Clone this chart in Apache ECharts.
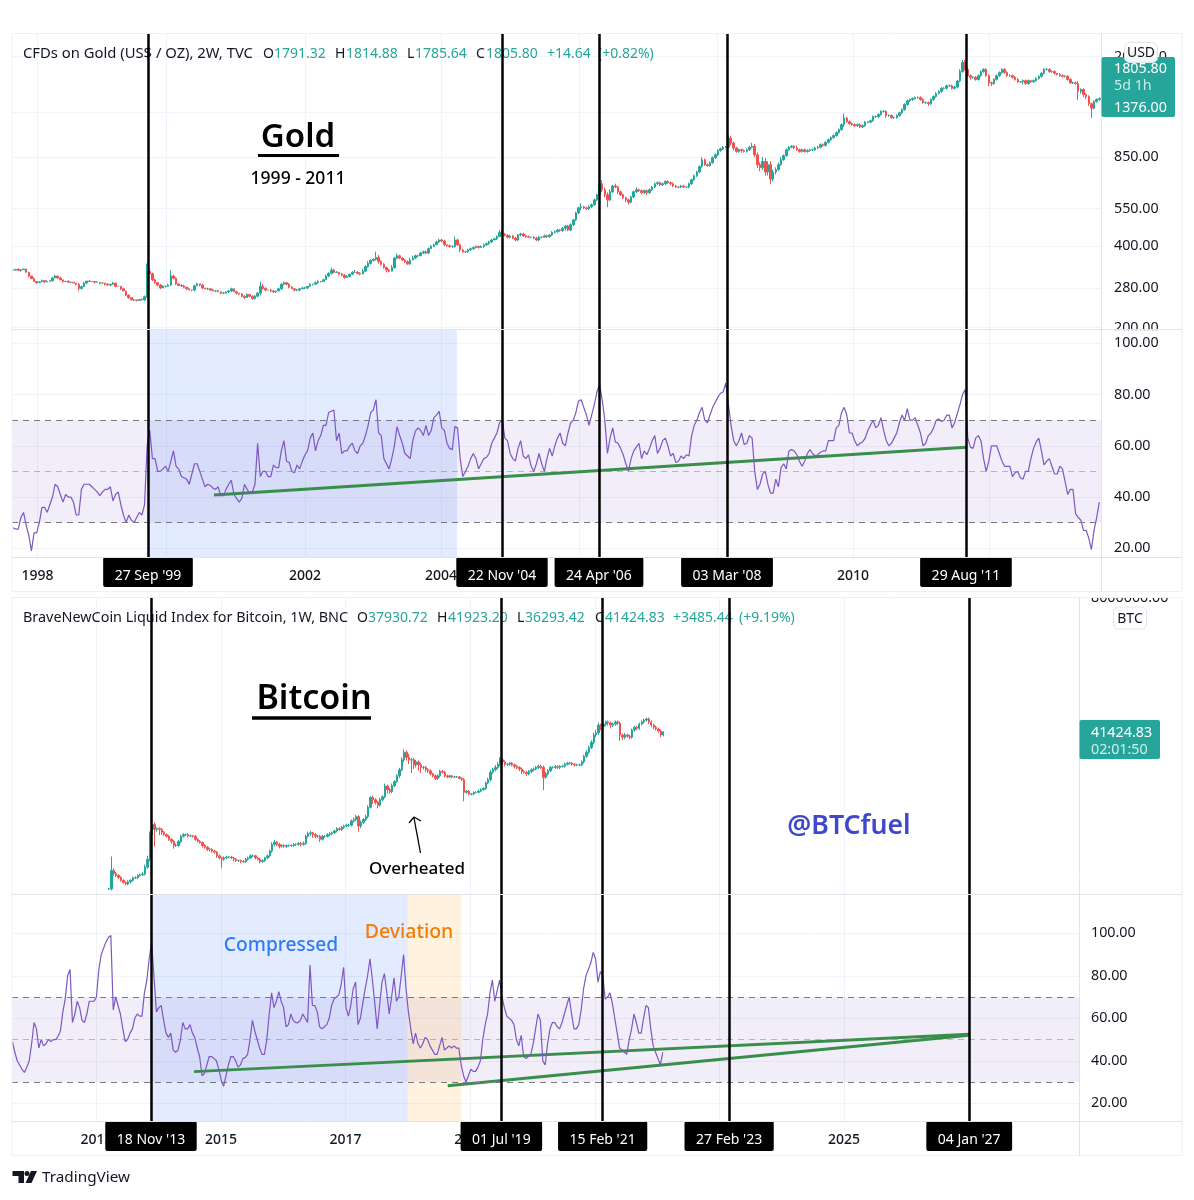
<!DOCTYPE html>
<html><head><meta charset="utf-8"><style>html,body{margin:0;padding:0;background:#fff}#c{width:1194px;height:1200px}</style>
<script src="https://cdn.jsdelivr.net/npm/echarts@6/dist/echarts.min.js"></script></head><body><div id="c"></div>
<script>
const goldStart=1997.64, goldStep=0.03868;
const goldCloses=[
326,328,325,327,329,320,310,303,296,293,295,298,295,296,298,305,310,305,300,296,
296,294,294,292,289,279,283,292,297,296,296,294,294,292,292,289,287,289,292,284,
284,278,273,264,258,253,253,252,254,253,260,322,316,300,293,287,280,284,284,287,
310,304,290,286,285,282,278,275,275,285,290,287,280,278,278,275,273,273,271,268,
268,271,273,278,271,268,266,261,258,265,261,256,261,268,284,279,275,275,273,271,
273,278,289,293,289,282,278,275,275,278,280,280,284,289,289,293,296,296,300,310,
317,326,320,320,315,312,306,309,315,320,320,317,315,323,336,345,354,357,363,351,
342,333,326,323,333,361,368,361,355,350,344,355,361,368,368,377,381,377,391,399,
404,414,421,417,404,401,398,398,421,404,387,381,381,387,391,395,398,395,398,404,
408,414,421,425,433,449,442,438,431,435,428,421,439,443,436,433,431,431,428,421,
431,431,436,433,439,449,452,458,456,465,474,458,479,499,530,553,558,553,549,558,
568,592,618,679,645,618,592,634,666,660,634,618,602,592,580,607,634,645,640,629,
640,629,645,660,679,685,673,679,692,685,679,666,660,660,666,660,660,679,702,726,
750,785,833,798,792,812,847,868,900,913,926,926,1000,960,920,893,906,900,893,906,
926,933,868,798,778,820,750,798,706,750,765,798,833,862,906,926,933,920,906,893,
906,893,900,906,906,920,926,946,940,965,987,1005,1022,1048,1075,1122,1185,1150,1130,1122,
1112,1122,1100,1112,1145,1145,1160,1200,1200,1222,1255,1255,1212,1212,1190,1190,1212,1240,1275,1331,
1373,1388,1400,1412,1412,1388,1352,1352,1340,1388,1424,1462,1487,1527,1527,1560,1560,1527,1543,1624,
1760,1905,1793,1700,1676,1676,1646,1700,1760,1793,1700,1600,1590,1646,1700,1745,1793,1745,1700,1700,
1676,1646,1615,1615,1630,1590,1630,1615,1630,1660,1690,1735,1793,1793,1760,1760,1735,1718,1700,1690,
1690,1646,1600,1600,1590,1487,1512,1449,1425,1340,1290,1365,1388,1400];
const goldWickUp=[
0,0,1,0,0,0,0,0,1,0,0,1,0,1,0,1,1,0,1,0,
0,1,0,0,0,1,1,1,0,1,0,0,1,0,0,0,1,0,1,0,
0,0,1,0,0,0,1,0,0,1,1,7,3,1,1,0,1,1,0,1,
5,1,1,0,1,1,0,1,0,1,1,0,1,0,1,0,1,0,1,0,
1,0,1,1,0,1,0,1,1,1,0,1,1,1,4,2,1,0,1,1,
0,1,1,1,0,1,1,0,1,0,1,1,0,1,0,1,1,0,1,1,
1,2,1,1,0,1,1,1,0,1,2,1,1,2,1,2,1,1,5,2,
1,1,1,1,2,1,2,1,1,1,1,2,2,1,1,1,1,1,1,1,
1,1,1,1,1,0,1,1,3,1,1,1,0,1,1,1,1,1,1,1,
1,1,1,1,1,2,2,1,1,1,1,1,1,1,1,1,1,0,1,1,
1,0,1,1,1,1,1,1,1,1,1,1,1,1,1,1,3,1,1,1,
1,1,1,5,3,2,2,2,1,2,1,1,1,1,1,1,1,2,1,1,
1,1,1,1,1,1,1,1,1,1,1,1,1,0,1,1,0,1,1,1,
1,1,2,1,1,1,1,1,1,1,1,1,2,2,1,1,1,1,1,1,
1,3,2,2,2,4,3,3,3,2,2,2,2,1,1,1,1,1,2,1,
1,1,1,1,1,1,1,1,1,1,1,1,1,1,1,1,4,1,1,1,
1,1,1,1,1,1,1,1,1,1,1,1,1,1,1,1,1,1,1,1,
1,1,1,1,1,1,1,1,1,1,1,1,1,1,1,1,1,1,1,1,
2,2,2,1,1,1,1,1,1,1,1,1,1,1,1,1,1,1,1,1,
1,1,1,0,1,1,1,0,1,1,1,1,1,1,1,1,1,0,1,1,
1,1,1,1,1,2,1,1,1,1,1,1,1,1];
const goldWickDown=[
0,0,0,1,0,0,1,0,0,1,0,0,1,0,0,1,0,1,0,1,
0,0,1,0,1,2,1,0,1,0,0,1,0,1,0,1,0,1,0,1,
0,1,0,1,1,0,1,1,0,0,1,1,1,1,1,1,1,0,1,0,
1,1,1,0,1,1,1,0,1,1,0,1,1,0,1,1,0,1,0,1,
1,0,1,1,0,1,1,1,1,0,1,1,1,1,2,1,1,0,1,1,
1,0,1,1,1,1,0,1,1,1,0,1,1,0,1,0,1,1,0,0,
1,1,1,0,1,1,1,0,1,1,0,1,1,0,1,1,1,1,1,2,
1,1,2,1,0,1,1,1,1,1,1,1,0,1,1,0,1,1,1,0,
1,0,1,1,1,1,1,1,1,1,2,1,1,1,1,1,1,1,0,1,
1,1,1,0,1,0,1,1,1,1,1,1,1,1,1,1,0,1,1,1,
1,1,0,1,1,1,1,1,1,1,2,1,1,1,1,1,2,1,1,1,
1,1,1,1,2,2,6,1,1,1,2,1,1,2,2,1,1,1,1,1,
1,2,1,1,1,1,1,1,1,1,1,1,1,1,1,1,1,1,1,1,
1,1,1,1,1,1,1,1,1,1,1,1,1,2,2,1,1,2,1,1,
1,1,2,3,3,2,3,3,4,2,2,1,1,1,1,1,1,1,1,1,
1,1,1,1,1,1,1,1,1,1,1,1,1,1,1,1,2,1,1,1,
1,1,1,1,1,1,1,1,1,1,1,1,2,1,1,1,1,1,1,1,
1,1,1,1,1,1,1,1,2,1,1,1,1,1,1,1,1,1,1,1,
1,1,1,1,2,1,1,1,1,1,1,3,2,1,1,1,1,1,1,1,
1,1,1,1,2,1,1,1,1,1,1,1,1,1,1,1,1,1,1,1,
1,1,1,1,1,7,2,2,2,2,8,1,1,1];
const goldRsi=[
28,27.5,27.5,32,34,29,25,19,26,26,30,36,36,34,37,40,45,44,41,38,
41,40,40,38,33,33,43,45,45,45,44,43,42,40.5,42,43,43,44,38.5,41,
42,37,33,30,33,31,30,32,34,33,37,60,66,55,55,50,50,51,52,50,
54,58,52,51,48,47.5,47,45,49,53,53,50,47,44,45,44.5,43.5,43,44,40.5,
40.5,43,45,46.5,41,39.5,38,39.5,45,43,41.5,42,45,61,48,50,50,48,48,52.5,
51.5,51.5,58,62,54,53.5,50,49.5,52.5,51,54,56.5,58,63,65,58,62,64,68,68,
73,73.5,74,62,65,57,58,58,60,61,58,57,60,61,64,68,73,74,78,65,
64,55,53,51,55,60,67.5,64,61,57,56,55,62,65.7,67,66,64,68,64,66,
71,72,73.5,67,66,61,59,58.5,67.5,67,55,48,50,52,55,57,55,51,53,55,
55.5,57,61,63,65,69,70,63,62,57,55,54,59,62,56,55,56.5,52,50,53,
57,53,50,55,59,56,60,63,65,61,60,65,69,70,73,77.5,78,75,72,68,
72,76,81,84,78,70,57,63,67,61.5,61,59,56.5,53,50,55,58,59.5,61,55,
58,56.5,59,62,64,57,59,62,63,60,56,57,53.5,54,56,55,56.5,56,64,68,
70,73,75,70,69,72,75,77,79,80.5,81,84.5,76,68,62,60,62,65,60.5,61,
64,63,50,43,45,49,50,45,41.5,41.5,47,44,51.5,53,51,58,58.5,58,56.5,54,
52,54,57,58.5,57,56,56.5,57.5,58,58,62,62,62,67,68,73,75,72,65,65,
62,60,61,61.5,63,66,68,70,67,68,71,66,62,60,61,63,65,69,72,70,
74.5,70,70,71,68,65,60,61,64,65,67,70,70.5,69.5,70,72,72,67,69,72.5,
76,80,82,63,59.5,59,63,64,62,55,50,54,60,60,60,57,54,52,52,52,
48,49.5,50,47.5,47,50,50,55,59,61.5,63,58,52.5,54,55,52,49,49,52,51,
46,41,43,43,33.5,32,31,27,27,24,19.5,27,32,38];

const btcCandleStart=2013.202, btcRsiStart=2011.652, btcStep=0.03852;
const btcCloses=[
87,180,160,148,137,122,112,106,115,122,
135,135,148,152,156,205,280,743,1098,903,
930,903,810,735,690,611,565,480,480,560,
690,735,735,700,700,690,611,565,540,480,
450,413,413,385,370,320,295,280,295,305,
305,295,280,265,265,255,255,280,295,320,
320,295,280,255,265,295,320,385,503,545,
503,465,480,465,480,480,480,503,503,520,
503,520,690,765,790,735,690,690,611,690,
690,735,765,790,850,930,903,980,1030,1065,
1065,1260,1330,1490,1030,1190,1330,1490,2150,3160,
2900,2610,2340,2900,3250,4960,4300,4000,5050,5900,
7450,9400,13880,18700,15300,13880,13880,11400,12800,11400,
10300,10300,9400,9000,8000,7400,6700,7400,8800,8500,
7400,7100,7400,7100,7100,7100,6700,6360,3880,4050,
3630,3630,3880,3880,4050,4300,4500,5600,6360,8500,
9400,10300,11700,13880,12800,11700,11700,12200,11400,10800,
10300,9700,8800,8500,8000,8800,9400,9700,10300,10800,
10300,7000,8000,9000,10300,10300,10600,10300,10800,10800,
11700,12200,12200,11700,11400,11400,11400,12800,16000,18700,
22500,27600,36800,40000,54300,52000,56500,61500,59000,54300,
56500,61500,59000,36800,33800,36800,35000,33800,44800,50000,
48000,56500,61500,66200,69000,61500,54300,50000,46500,43000,
36800,41424];
const btcWickUp=[
5,73,8,6,5,5,4,4,6,5,
5,6,5,5,8,10,15,12,6,8,
5,6,6,5,5,5,4,6,8,6,
6,6,5,6,5,4,5,4,5,4,
6,4,5,4,5,4,5,4,6,5,
4,5,4,4,4,4,6,5,5,6,
5,4,4,5,5,4,5,6,8,10,
5,6,4,5,4,4,4,5,4,6,
6,8,6,8,8,4,6,5,6,6,
4,6,6,5,5,6,6,5,5,6,
6,6,8,8,6,8,6,8,8,6,
8,6,6,8,6,10,6,8,8,6,
6,8,10,12,8,15,8,8,8,6,
8,6,6,6,6,5,5,6,6,6,
6,5,4,4,4,4,4,4,6,5,
4,4,4,4,5,6,5,6,8,10,
8,10,8,10,6,6,5,5,5,5,
5,5,5,5,6,6,6,6,6,6,
6,8,8,8,6,5,6,6,5,6,
6,5,5,5,5,4,5,6,6,8,
8,8,10,12,10,6,8,6,6,6,
6,6,6,6,6,8,6,6,6,6,
6,6,6,6,6,6,6,6,6,5,
6,3];
const btcWickDown=[
4,6,8,6,5,5,4,4,5,6,
5,5,4,5,5,5,6,8,30,49,
8,20,10,5,5,6,8,12,6,5,
6,5,5,6,5,5,6,5,5,8,
6,6,8,6,6,8,6,30,6,6,
5,5,8,5,5,6,5,5,5,4,
5,6,5,6,5,5,5,6,6,8,
8,8,5,5,6,5,5,5,6,5,
8,5,6,6,8,12,8,6,10,5,
6,5,6,5,5,6,5,6,6,5,
6,5,6,6,20,8,6,6,6,5,
15,8,12,6,6,6,15,8,6,6,
5,8,6,8,12,15,40,15,10,20,
20,8,8,8,6,6,6,6,6,5,
6,5,5,5,4,4,4,5,30,6,
6,5,4,4,4,4,4,5,5,6,
6,6,6,8,12,8,6,6,6,8,
6,8,10,5,8,6,6,6,5,6,
6,40,6,6,5,5,6,6,6,5,
5,5,5,5,6,5,5,5,6,6,
6,6,8,8,8,15,8,8,10,12,
8,6,8,20,10,8,6,8,6,6,
6,6,5,6,6,8,8,8,6,6,
8,5];
const btcRsi=[
49,44,40,38,36,34.5,37,40,48,58,
55,46,50,47,48,50,49,50,50,51.5,
54,63,69,80,83,58,62,68,65,59,
58,62,68,68,68,70,83,90,93,96,
98,99,64,70,66,62,55,49,50,53,
55,60,62,61,61,72,78,88,96,79,
63,65,66,59,53,51,53,45,44,45,
50,58,55,55,57,53,51,46,42,33,
34,38,42,42,41,40,36,31,28,33,
38,42,42,40,37,38,41,41.5,43,50,
59,54,50,46,43,43,50,62,72,65,
68,72.5,68,65,56,57,62,59,58,58,
59,62,60,58,85,66,66,63,56,55,
56,57,60,66,69,70,71,76,84,65,
61,66,74,77,57,60,67,74,80,88,
78,67,55,66,77,81,72,62,70,79,
68,70,80,90,74,63,55,48,53,48,
46,48,51,50,47,45,43,43,47,51,
45,46,47,46,47,46,46,38,33,30,
33,36,35,35,37,40,50,57,62,72,
78,68,73,78,70,65,61,60,59,57,
50,47,52,42,41,42,43,48,55,62,
59,40,38,48,55,58,58,56,55,58,
62,66,70,62,55,55,57,64,74,80,
83,86,91,88,77,82,80,69,70,72,
67,60,53,46,45,44,43,50,55,62,
58,53,53,60,66,65,55,47,44,41,
38,44];

const goldPriceTicks=[200,280,400,550,850,1250,2000];
const btcPriceTicks=[8000000];
const rsiTicks=[20,40,60,80,100];
const rsiBandLimits=[70,30];
const rsiMidline=[50];
const goldYearTicks=[1998,1999.897,2001.934,2003.934,2005.963,2007.993,2009.993,2012];
const btcYearTicks=[2013,2015,2017,2019,2021,2023,2025,2027];
const goldEventYears=[1999.625,2004.831,2006.257,2008.14,2011.654];
const goldEventLabels=["27 Sep '99","22 Nov '04","24 Apr '06","03 Mar '08","29 Aug '11"];
const btcEventYears=[2013.876,2019.5,2021.126,2023.156,2027.01];
const btcEventLabels=["18 Nov '13","01 Jul '19","15 Feb '21","27 Feb '23","04 Jan '27"];
const goldTrendYears=[2000.596,2011.654], goldTrendValues=[40.8,59.4];
const btcTrendAYears=[2014.567,2027.01], btcTrendAValues=[34.9,52.5];
const btcTrendBYears=[2018.64,2027.01], btcTrendBValues=[28.3,52];
const goldCompressed=[1999.65,2004.169];
const btcCompressed=[2013.876,2017.995];
const btcDeviation=[2017.995,2018.86];

const FONT='"Noto Sans", sans-serif';
const INK='#131722', TEAL='#26a69a', RED='#ef5350', GRID='#f0f3fa', EDGE='#e0e3eb';
function candles(start,step,closes,up,down){
  return closes.map((c,i)=>{
    const o=i?closes[i-1]:c;
    const h=Math.max(o,c)*(1+up[i]/100), l=Math.min(o,c)*(1-down[i]/100);
    return [start+i*step,o,c,l,h];
  });
}
function xAxis(idx,min,max,ticks,showLabel){
  return {type:'value',gridIndex:idx,min,max,
    axisLine:{show:false},
    axisTick:{show:false,customValues:ticks},
    splitLine:{show:true,lineStyle:{color:GRID,width:1}},
    axisLabel:{show:showLabel,customValues:ticks,margin:12,fontSize:14,fontWeight:500,color:INK,fontFamily:FONT,
      formatter:v=>String(Math.round(v))}};
}
function yAxis(idx,type,min,max,ticks,margin,split){
  return {type,gridIndex:idx,position:'right',min,max,
    axisLine:{show:false},
    axisTick:{show:false,customValues:ticks},
    splitLine:{show:split,lineStyle:{color:GRID,width:1}},
    axisLabel:{customValues:ticks,margin,fontSize:14.3,padding:[3,0,0,0],color:INK,fontFamily:FONT,formatter:v=>Number(v).toFixed(2)}};
}
function eventSeries(ax,years,labels,y0,y1,tags){
  return {type:'line',xAxisIndex:ax,yAxisIndex:ax,data:[],z:6,silent:true,
    markLine:{silent:true,symbol:'none',animation:false,
      lineStyle:{color:'#000',width:2.5,type:'solid'},label:{show:false},
      data:years.map((y,i)=>[
        {xAxis:y,yAxis:y0,name:labels[i],
         label:{show:tags,position:'start',distance:0,formatter:labels[i],color:'#fff',backgroundColor:'#000',
           fontFamily:FONT,fontSize:14,lineHeight:18,padding:[10,11.5,2,11.5],borderRadius:2}},
        {xAxis:y,yAxis:y1}])}};
}
function bandSeries(ax,areas){
  return {type:'line',xAxisIndex:ax,yAxisIndex:ax,data:[],z:1,silent:true,
    markArea:{silent:true,animation:false,data:[
      [{yAxis:rsiBandLimits[0],itemStyle:{color:'rgba(126,87,194,0.1)'}},{yAxis:rsiBandLimits[1]}],
      ...areas.map(a=>[{xAxis:a[0],itemStyle:{color:a[2]}},{xAxis:a[1]}])]},
    markLine:{silent:true,symbol:'none',animation:false,label:{show:false},data:[
      ...rsiBandLimits.map(v=>({yAxis:v,lineStyle:{color:'#787b86',type:[6,5],width:1}})),
      ...rsiMidline.map(v=>({yAxis:v,lineStyle:{color:'rgba(120,123,134,0.5)',type:[6,5],width:1}}))]}};
}
function pathSeries(ax,data,color,width,z){
  return {type:'line',xAxisIndex:ax,yAxisIndex:ax,data,z,symbol:'none',showSymbol:false,silent:true,
    lineStyle:{color,width},itemStyle:{color}};
}
function zipXY(xs,ys){return xs.map((x,i)=>[x,ys[i]]);}
function candleSeries(ax,data,w){
  return {type:'candlestick',xAxisIndex:ax,yAxisIndex:ax,data,barWidth:w,z:3,silent:true,large:false,
    itemStyle:{color:TEAL,color0:RED,borderColor:TEAL,borderColor0:RED,borderWidth:1}};
}
function txt(text,x,y,fill,size,opt){
  opt=opt||{};
  return {type:'text',z:opt.z==null?1:opt.z,silent:true,style:{text,x,y,fill,font:(opt.weight||'400')+' '+size+'px '+FONT,
    textAlign:opt.align||'left',textVerticalAlign:'middle'}};
}
function box(x,y,w,h,fill,stroke,z,r){
  return {type:'rect',z,silent:true,shape:{x,y,width:w,height:h,r:r||0},style:{fill,stroke:stroke||null,lineWidth:stroke?1:0}};
}
function seg(x1,y1,x2,y2,color,w,z){
  return {type:'line',z:z==null?8:z,silent:true,shape:{x1,y1,x2,y2},style:{stroke:color,lineWidth:w||1}};
}
function poly(points,fill){return {type:'polygon',z:20,silent:true,shape:{points},style:{fill}};}

const graphics=[
  // panel frames
  seg(12,33.5,1182,33.5,'#eef0f4'),seg(12,591.5,1182,591.5,'#eef0f4'),seg(12,33.5,12,591.5,'#eef0f4'),seg(1182,33.5,1182,591.5,'#eef0f4'),
  seg(12,597.5,1182,597.5,'#eef0f4'),seg(12,1155.5,1182,1155.5,'#eef0f4'),seg(12,597.5,12,1155.5,'#eef0f4'),seg(1182,597.5,1182,1155.5,'#eef0f4'),
  seg(12,329.5,1182,329.5,EDGE),seg(12,557.5,1182,557.5,EDGE),seg(1101.5,33.5,1101.5,591.5,EDGE),
  seg(12,894.5,1182,894.5,EDGE),seg(12,1121.5,1182,1121.5,EDGE),seg(1079.5,597.5,1079.5,1155.5,EDGE),
  // clip of scale labels that run past their panes
  box(1103,330.2,78,6,'#fff',null,9),box(1083,592,97,5.2,'#fff',null,9),
  // gold legend
  txt('CFDs on Gold (US$ / OZ), 2W, TVC',23,54,INK,14.8),
  txt('O',263,54,INK,14),txt('1791.32',274,54,TEAL,14),
  txt('H',335,54,INK,14),txt('1814.88',346,54,TEAL,14),
  txt('L',407,54,INK,14),txt('1785.64',415,54,TEAL,14),
  txt('C',476,54,INK,14),txt('1805.80',486,54,TEAL,14),
  txt('+14.64',547,54,TEAL,14),txt('(+0.82%)',598,54,TEAL,14),
  // bitcoin legend
  txt('BraveNewCoin Liquid Index for Bitcoin, 1W, BNC',23,618,INK,14.4),
  txt('O',357,618,INK,14),txt('37930.72',368,618,TEAL,14),
  txt('H',437,618,INK,14),txt('41923.20',448,618,TEAL,14),
  txt('L',517,618,INK,14),txt('36293.42',525,618,TEAL,14),
  txt('C',595,618,INK,14),txt('41424.83',605,618,TEAL,14),
  txt('+3485.44',673,618,TEAL,14),txt('(+9.19%)',739,618,TEAL,14),
  // titles
  txt('Gold',298,138,'#000',33,{align:'center',weight:'600',z:20}),
  seg(258,155.5,339,155.5,'#000',3,20),
  txt('1999 - 2011',298,179,'#000',17.5,{align:'center',weight:'500',z:20}),
  txt('Bitcoin',314,699,'#000',34,{align:'center',weight:'600',z:20}),
  seg(252,718,371,718,'#000',3.5,20),
  txt('Overheated',417,869,'#000',17,{align:'center',weight:'500',z:20}),
  seg(420.5,853,414,818,'#000',1.3,20),seg(414,817,409,823,'#000',1.3,20),seg(414,817,421,821,'#000',1.3,20),
  txt('Compressed',281,946,'#2f7bf5',19.2,{align:'center',weight:'500',z:20}),
  txt('Deviation',409,932,'#f57c00',19.5,{align:'center',weight:'500',z:20}),
  txt('@BTCfuel',849,826,'#3f48cc',26.7,{align:'center',weight:'600',z:20}),
  // gold scale badges
  box(1101.5,57,73.5,60,TEAL,null,10,2),
  txt('1805.80',1114,69,'#fff',14.3,{z:11}),txt('5d 1h',1114,86,'rgba(255,255,255,0.75)',14.3,{z:11}),txt('1376.00',1114,108,'#fff',14.3,{z:11}),
  box(1124.5,42.5,33,20,'rgba(255,255,255,0.92)',EDGE,12,5),txt('USD',1141,53,INK,14,{align:'center',z:13}),
  // bitcoin scale badges
  box(1079.5,720,80.5,39,TEAL,null,10,2),
  txt('41424.83',1091,733,'#fff',14.3,{z:11}),txt('02:01:50',1091,750,'rgba(255,255,255,0.8)',14.3,{z:11}),
  box(1113.5,607,33,22,'#fff',EDGE,12,5),txt('BTC',1130,619,INK,14,{align:'center',z:13}),
  // footer
  poly([[12.5,1171],[24,1171],[24,1183],[18.5,1183],[18.5,1176],[12.5,1176]],INK),
  {type:'circle',z:20,silent:true,shape:{cx:27,cy:1173.5,r:2.5},style:{fill:INK}},
  poly([[31,1171],[37,1171],[31.5,1183],[25.5,1183]],INK),
  txt('TradingView',42,1178,INK,15.3,{z:20})
];

const option={
  animation:false,backgroundColor:'#fff',textStyle:{fontFamily:FONT},
  grid:[
    {left:12,top:34,width:1089,height:295},
    {left:12,top:330,width:1089,height:227},
    {left:12,top:598,width:1067,height:296},
    {left:12,top:895,width:1067,height:226}],
  xAxis:[
    xAxis(0,1997.625,2013.64,goldYearTicks,false),
    xAxis(1,1997.625,2013.64,goldYearTicks,true),
    xAxis(2,2011.645,2028.772,btcYearTicks,false),
    xAxis(3,2011.645,2028.772,btcYearTicks,true)],
  yAxis:[
    yAxis(0,'log',197.6,2422,goldPriceTicks,13,true),
    yAxis(1,'value',16.6,105.2,rsiTicks,13,true),
    yAxis(2,'log',71.4,8000000,btcPriceTicks,12,false),
    yAxis(3,'value',11.67,118,rsiTicks,12,true)],
  graphic:{elements:graphics},
  series:[
    candleSeries(0,candles(goldStart,goldStep,goldCloses,goldWickUp,goldWickDown),2),
    eventSeries(0,goldEventYears,goldEventLabels,197.6,2422,false),
    bandSeries(1,[[goldCompressed[0],goldCompressed[1],'rgba(41,98,255,0.13)']]),
    pathSeries(1,zipXY(goldTrendYears,goldTrendValues),'#388e4a',3,3),
    pathSeries(1,goldRsi.map((v,i)=>[goldStart+i*goldStep,v]),'#7e57c2',1.2,4),
    eventSeries(1,goldEventYears,goldEventLabels,16.6,105.2,true),
    candleSeries(2,candles(btcCandleStart,btcStep,btcCloses,btcWickUp,btcWickDown),1.8),
    eventSeries(2,btcEventYears,btcEventLabels,71.4,8000000,false),
    bandSeries(3,[[btcCompressed[0],btcCompressed[1],'rgba(41,98,255,0.13)'],[btcDeviation[0],btcDeviation[1],'rgba(255,152,0,0.13)']]),
    pathSeries(3,zipXY(btcTrendAYears,btcTrendAValues),'#388e4a',3,3),
    pathSeries(3,zipXY(btcTrendBYears,btcTrendBValues),'#388e4a',3,3),
    pathSeries(3,btcRsi.map((v,i)=>[btcRsiStart+i*btcStep,v]),'#7e57c2',1.2,4),
    eventSeries(3,btcEventYears,btcEventLabels,11.67,118,true)
  ]
};
echarts.init(document.getElementById('c'),null,{renderer:'canvas'}).setOption(option);
</script></body></html>
